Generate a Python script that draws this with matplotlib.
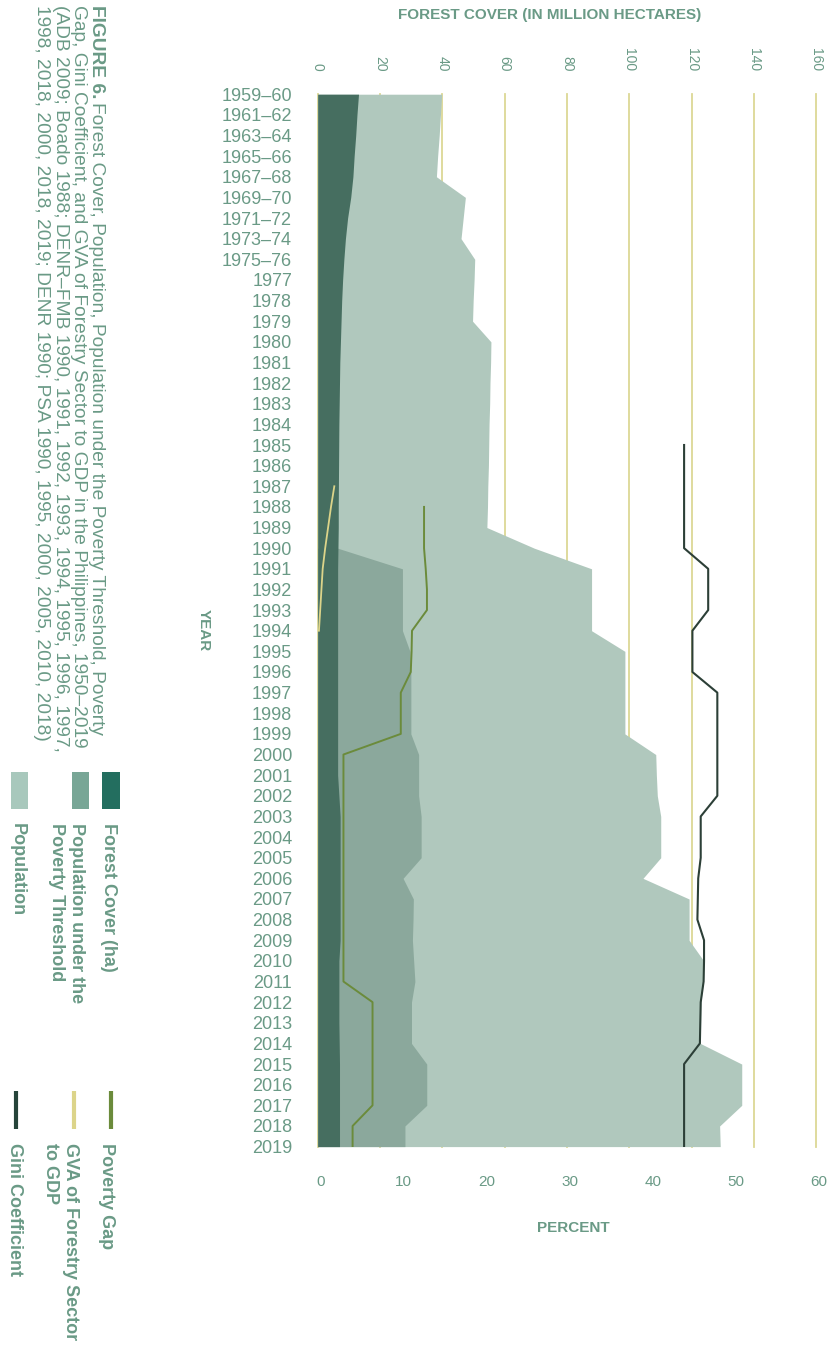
import numpy as np
import matplotlib
matplotlib.use('Agg')
import matplotlib.pyplot as plt
from matplotlib.lines import Line2D
from matplotlib.patches import Rectangle
from matplotlib.transforms import ScaledTranslation

# ---------------- data ----------------
years = ["1959–60", "1961–62", "1963–64", "1965–66", "1967–68", "1969–70",
         "1971–72", "1973–74", "1975–76", "1977", "1978", "1979", "1980",
         "1981", "1982", "1983", "1984", "1985", "1986", "1987", "1988",
         "1989", "1990", "1991", "1992", "1993", "1994", "1995", "1996",
         "1997", "1998", "1999", "2000", "2001", "2002", "2003", "2004",
         "2005", "2006", "2007", "2008", "2009", "2010", "2011", "2012",
         "2013", "2014", "2015", "2016", "2017", "2018", "2019"]

nan = np.nan
forest_cover = [13.1, 12.6, 12.2, 11.7, 11.3, 10.6, 9.6, 8.9, 8.4, 8.0,
                7.7, 7.5, 7.3, 7.1, 7.0, 6.9, 6.8, 6.75, 6.7, 6.65, 6.6,
                6.6, 6.5, 6.4, 6.4, 6.4, 6.4, 6.4, 6.4, 6.4, 6.4, 6.4,
                6.4, 6.4, 6.8, 7.2, 7.2, 7.2, 7.2, 7.2, 7.2, 7.2, 6.8,
                6.8, 6.8, 6.8, 6.9, 7.0, 7.0, 7.0, 7.0, 7.0]

population = [39.8, 39.4, 39.0, 38.5, 38.1, 47.4, 46.7, 46.0, 50.4, 50.2,
              49.9, 49.7, 55.6, 55.5, 55.3, 55.2, 55.0, 54.9, 54.8, 54.6,
              54.5, 54.3, 69.5, 87.9, 87.9, 87.9, 87.9, 98.6, 98.6, 98.6,
              98.6, 98.6, 108.5, 108.7, 109.0, 110.1, 110.1, 110.1, 104.4,
              119.2, 119.2, 119.2, 123.9, 123.8, 123.0, 122.9, 122.8,
              136.1, 136.1, 136.1, 129.0, 129.2]

poverty_population = [nan] * 22 + [
    6.4, 27.2, 27.2, 27.2, 27.2, 29.6, 29.9, 29.9, 29.9, 29.9,
    32.4, 32.4, 32.4, 33.2, 33.2, 33.2, 27.4, 30.7, 30.6, 30.4,
    30.8, 31.2, 30.1, 30.1, 30.1, 35.0, 35.0, 35.0, 28.0, 28.0]

poverty_gap = [nan] * 20 + [
    12.8, 12.8, 12.8, 13.0, 13.15, 13.15, 11.35, 11.3, 11.2, 10.0,
    10.0, 10.0, 3.1, 3.1, 3.1, 3.1, 3.1, 3.1, 3.1, 3.1, 3.1, 3.1,
    3.1, 3.1, 6.6, 6.6, 6.6, 6.6, 6.6, 6.6, 4.2, 4.2]

gva_forestry = [nan] * 19 + [2.0, 1.6, 1.25, 0.9, 0.6, 0.45, 0.3, 0.15] + [nan] * 25

gini = [nan] * 17 + [
    44.1, 44.1, 44.1, 44.1, 44.1, 44.1, 47.0, 47.0, 47.0, 45.1,
    45.1, 45.1, 48.1, 48.1, 48.1, 48.1, 48.1, 48.1, 46.1, 46.1,
    46.1, 45.8, 45.75, 45.7, 46.5, 46.5, 46.45, 46.1, 46.05, 46.0,
    44.1, 44.1, 44.1, 44.1, 44.1]

top_ticks = [0, 20, 40, 60, 80, 100, 120, 140, 160]
pct_ticks = [0, 10, 20, 30, 40, 50, 60]

# ---------------- style ----------------
W, H, DPI = 835, 1346, 100
plt.rcParams['font.family'] = ['Liberation Sans', 'DejaVu Sans']
TXT = '#6a9a86'
C_POP = '#b0c8bd'
C_POV = '#8ba89c'
C_FOR = '#466e60'
C_GRID = '#dcd895'
C_GAP = '#6b8b3b'
C_GVA = '#dcd48a'
C_GINI = '#2c3f37'

fig = plt.figure(figsize=(W / DPI, H / DPI), dpi=DPI)


def fx(px):
    return px / W


def fy(py):
    return 1 - py / H


L, R, T, B = 317.7, 816.2, 94.2, 1146.6
ax = fig.add_axes([fx(L), fy(B), (R - L) / W, (B - T) / H])
y = np.arange(len(years))
ax.set_xlim(0, 160)
ax.set_axisbelow(True)
ax.xaxis.grid(True, color=C_GRID, lw=1.3)
ax.yaxis.grid(False)
for s in ax.spines.values():
    s.set_visible(False)

ax.fill_betweenx(y, 0, population, color=C_POP, lw=0, zorder=1)
pp = np.array(poverty_population, float)
m = ~np.isnan(pp)
ax.fill_betweenx(y[m], 0, pp[m], color=C_POV, lw=0, zorder=2)
ax.fill_betweenx(y, 0, forest_cover, color=C_FOR, lw=0, zorder=3)

ax2 = ax.twiny()
ax2.set_xlim(0, 60)
for s in ax2.spines.values():
    s.set_visible(False)
ax2.plot(gva_forestry, y, color=C_GVA, lw=1.3, zorder=4)
ax2.plot(poverty_gap, y, color=C_GAP, lw=1.4, zorder=5)
ax2.plot(gini, y, color=C_GINI, lw=1.5, zorder=6)

# top axis (million hectares)
ax.xaxis.set_ticks_position('top')
ax.xaxis.set_label_position('top')
ax.set_xticks(top_ticks)
ax.set_xticklabels([str(t) for t in top_ticks], rotation=-90, fontsize=10, color=TXT)
ax.tick_params(axis='x', which='both', length=0, pad=16.6,
               top=True, labeltop=True, bottom=False, labelbottom=False)
for gl in ax.get_xgridlines():
    gl.set_clip_on(False)
# bottom axis (percent)
ax2.xaxis.set_ticks_position('bottom')
ax2.xaxis.set_label_position('bottom')
ax2.set_xticks(pct_ticks)
ax2.set_xticklabels([str(t) for t in pct_ticks], fontsize=11, color=TXT)
ax2.tick_params(axis='x', which='both', length=0, pad=20.8,
                bottom=True, labelbottom=True, top=False, labeltop=False)
shift = ScaledTranslation(3 / DPI, 0, fig.dpi_scale_trans)
for lab in ax2.get_xticklabels():
    lab.set_transform(lab.get_transform() + shift)
# year axis
ax.set_yticks(y)
ax.set_yticklabels(years, fontsize=13, color=TXT)
ax.tick_params(axis='y', length=0, pad=18.5)
ax.set_ylim(len(years) - 1, 0)

# ---------------- titles ----------------
fig.text(fx(549.9), fy(15.4), 'FOREST COVER (IN MILLION HECTARES)', ha='center', va='center',
         fontsize=11, fontweight='bold', color=TXT)
fig.text(fx(573.8), fy(1227.7), 'PERCENT', ha='center', va='center',
         fontsize=11, fontweight='bold', color=TXT)
fig.text(fx(204), fy(630), 'YEAR', ha='center', va='center', rotation=-90,
         fontsize=11, fontweight='bold', color=TXT)

# ---------------- caption (rotated) ----------------
CAP_FS = 13.8
cap_x = [97, 78.5, 60, 41.5]
cap_top = 5
renderer = fig.canvas.get_renderer()
t0 = fig.text(fx(cap_x[0]), fy(cap_top), 'FIGURE 6.', rotation=-90, rotation_mode='anchor',
              ha='left', va='center', fontsize=CAP_FS, fontweight='bold', color=TXT)
bb = t0.get_window_extent(renderer)
fig.text(fx(cap_x[0]), fy(cap_top + bb.height + 4),
         'Forest Cover, Population, Population under the Poverty Threshold, Poverty',
         rotation=-90, rotation_mode='anchor', ha='left', va='center', fontsize=CAP_FS, color=TXT)
cap_lines = ['Gap, Gini Coefficient, and GVA of Forestry Sector to GDP in the Philippines, 1950–2019',
             '(ADB 2009; Boado 1988; DENR–FMB 1990, 1991, 1992, 1993, 1994, 1995, 1996, 1997,',
             '1998, 2018, 2000, 2018, 2019; DENR 1990; PSA 1990, 1995, 2000, 2005, 2010, 2018)']
for xx, line in zip(cap_x[1:], cap_lines):
    fig.text(fx(xx), fy(cap_top), line, rotation=-90, rotation_mode='anchor',
             ha='left', va='center', fontsize=CAP_FS, color=TXT)

# ---------------- legend (rotated) ----------------
def patch(x0, x1, y0, y1, color):
    fig.add_artist(Rectangle((fx(x0), fy(y1)), (x1 - x0) / W, (y1 - y0) / H,
                             transform=fig.transFigure, color=color, lw=0))


def vline(xc, y0, y1, color):
    fig.add_artist(Line2D([fx(xc), fx(xc)], [fy(y0), fy(y1)], transform=fig.transFigure,
                          color=color, lw=3, solid_capstyle='butt'))


def label(xc, ytop, s):
    fig.text(fx(xc), fy(ytop), s, rotation=-90, rotation_mode='anchor', ha='left', va='center',
             fontsize=13, fontweight='bold', color=TXT)


patch(101.7, 120, 771.7, 809.3, '#236e5f')
patch(72, 89, 771.7, 809.3, '#78a696')
patch(11, 28, 771.7, 809.3, '#a8c8bc')
label(108.5, 823, 'Forest Cover (ha)')
label(77, 823, 'Population under the')
label(57, 823, 'Poverty Threshold')
label(17, 823, 'Population')

vline(110.5, 1091, 1129, C_GAP)
vline(74.3, 1091, 1129, C_GVA)
vline(16, 1091, 1129, '#26443a')
label(106, 1143, 'Poverty Gap')
label(70.5, 1143, 'GVA of Forestry Sector')
label(50, 1143, 'to GDP')
label(14, 1143, 'Gini Coefficient')

fig.savefig('out.png', dpi=DPI)
